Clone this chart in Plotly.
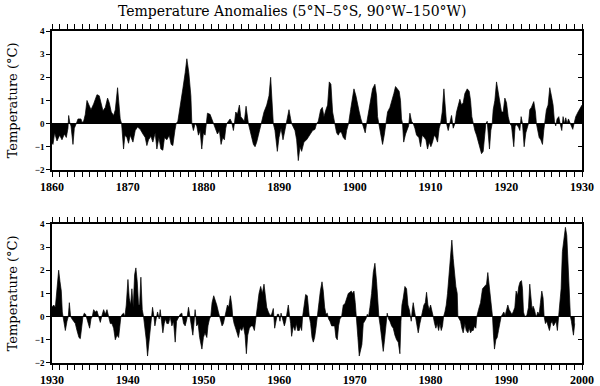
import plotly.graph_objects as go

# ---- data ----
years_top = [1860.00,1860.13,1860.35,1860.66,1861.01,1861.32,1861.63,1861.89,1862.11,1862.20,1862.37,1862.51,1862.77,1862.95,1863.21,1863.43,1863.83,1863.96,1864.18,1864.40,1864.62,1864.84,1865.15,1865.50,1865.94,1866.24,1866.46,1866.73,1867.04,1867.34,1867.56,1867.83,1868.14,1868.36,1868.66,1868.84,1869.01,1869.19,1869.45,1869.63,1869.89,1870.11,1870.33,1870.69,1870.99,1871.30,1871.65,1872.01,1872.31,1872.53,1872.75,1873.06,1873.32,1873.63,1873.85,1874.12,1874.38,1874.64,1874.86,1875.17,1875.48,1875.74,1875.96,1876.23,1876.40,1876.62,1876.93,1877.28,1877.59,1877.81,1878.07,1878.34,1878.47,
 1878.68,1878.90,1879.12,1879.34,1879.56,1879.78,1880.00,1880.22,1880.35,1880.53,1880.88,1881.14,1881.32,1881.54,1881.85,1882.11,1882.33,1882.55,1882.77,1882.95,1883.08,1883.30,1883.52,1883.74,1883.96,1884.09,1884.27,1884.49,1884.75,1884.93,1885.15,1885.41,1885.63,1885.80,1885.94,1886.16,1886.38,1886.60,1886.82,1887.04,1887.26,1887.48,1887.70,1888.00,1888.36,1888.66,1888.88,1889.10,1889.23,1889.45,1889.76,1889.98,1890.25,1890.51,1890.73,1890.91,1891.13,1891.30,1891.52,1891.65,1892.09,1892.31,1892.53,1892.75,1892.97,1893.28,1893.63,1894.07,1894.42,1894.73,1894.95,1895.17,1895.48,1895.70,1895.92,1896.18,1896.40,1896.62,1896.84,1897.06,1897.24,1897.41,1897.59,1897.81,1898.03,1898.25,1898.47,1898.73,1898.91,1899.17,1899.44,1899.70,1899.88,1900.14,1900.36,1900.58,1900.80,1900.98,1901.20,1901.37,1901.55,1901.77,1902.08,1902.34,1902.65,1902.87,1903.00,1903.17,1903.39,1903.66,1903.88,1904.10,1904.32,1904.63,1904.93,1905.15,1905.37,1905.59,1905.85,1906.03,1906.16,1906.30,
 1906.45,1906.70,1906.95,1907.10,1907.27,1907.49,1907.71,1907.93,1908.15,1908.46,1908.68,1908.90,1909.16,1909.38,1909.60,1909.82,1910.04,1910.26,1910.48,1910.70,1910.92,1911.14,1911.32,1911.54,1911.76,1911.93,1912.11,1912.33,1912.55,1912.77,1912.99,1913.21,1913.43,1913.65,1913.87,1914.09,1914.31,1914.53,1914.84,1915.10,1915.28,1915.45,1915.63,1915.85,1916.07,1916.29,1916.51,1916.73,1916.95,1917.17,1917.30,1917.48,1917.61,1917.78,1917.96,1918.14,1918.27,1918.49,1918.71,1918.93,1919.15,1919.37,1919.59,1919.81,1920.03,1920.25,1920.47,1920.69,1920.99,1921.17,1921.35,1921.61,1921.79,1921.96,1922.14,1922.36,1922.58,1922.75,1922.93,1923.10,1923.32,1923.63,1923.85,1923.98,1924.16,1924.34,1924.56,1924.78,1924.95,1925.08,1925.30,1925.52,1925.74,1925.96,1926.18,1926.36,1926.53,1926.71,1926.93,1927.11,1927.33,1927.50,1927.68,1927.85,1928.03,1928.21,1928.38,1928.60,1928.78,1928.95,1929.17,1929.48,1929.79,1930.00]
anom_top = [-0.85,-0.9,-0.4,-0.75,-0.5,-0.7,-0.45,-0.6,-0.2,0.35,0.0,-0.1,-0.9,-0.2,0.0,0.2,0.2,0.05,0.1,0.4,1.0,0.85,0.6,0.85,1.25,1.2,0.9,0.55,0.7,1.1,0.9,0.5,0.35,0.6,1.55,0.8,0.2,0.0,-1.1,-0.5,-0.6,-0.85,-0.5,-0.8,-0.3,-0.15,-0.25,-0.45,-0.6,-0.95,-0.7,-0.55,-0.8,-0.4,-1.1,-0.6,-1.1,-1.15,-0.6,-0.7,-0.5,-0.9,-0.95,-0.3,0.0,0.1,0.7,1.5,2.2,2.8,2.2,1.2,0.0,
 -0.3,0.0,-0.1,-0.5,-0.3,-1.1,-0.4,-0.5,0.0,0.45,0.4,0.15,0.0,-0.2,-0.45,-0.3,-0.9,-0.6,-0.7,-0.2,0.0,0.1,0.2,0.05,-0.3,0.0,0.5,0.4,0.8,0.3,0.2,0.1,0.75,0.3,0.0,-0.3,-0.6,-0.9,-1.0,-0.8,-0.5,-0.2,0.0,0.5,0.8,1.2,2.0,1.0,0.0,-0.3,-1.2,-0.6,-0.2,-0.7,-0.3,0.0,0.4,0.6,0.2,0.0,-0.3,-0.7,-1.6,-1.0,-1.2,-0.8,-0.7,-0.5,-0.3,-0.25,0.0,0.1,0.6,0.7,0.3,0.6,0.8,1.8,1.7,0.5,0.1,-0.1,-0.4,-0.5,-0.35,-0.4,-0.6,-0.7,-0.3,0.0,0.6,1.2,1.5,1.2,0.8,0.5,0.2,0.0,-0.3,-0.4,0.0,0.4,1.0,1.5,1.7,1.2,0.3,0.0,-0.5,-0.9,-0.5,0.0,0.5,0.7,1.0,1.3,1.6,1.5,1.4,1.0,0.2,0.0,
 -0.8,-0.45,-0.2,-0.1,0.45,0.1,0.0,-0.2,-0.5,-0.6,-1.0,-0.5,-0.6,-0.7,-1.1,-0.8,-1.0,-0.8,-0.5,-0.6,-0.8,-0.2,0.0,0.5,1.5,0.7,0.0,-0.3,0.0,0.35,-0.2,0.0,0.5,0.8,1.05,0.8,0.9,1.3,1.5,1.4,1.0,0.3,0.0,-0.3,-0.5,-0.8,-1.1,-1.3,-1.2,-0.3,0.0,0.1,-0.5,-1.1,-0.3,0.0,0.6,1.0,1.8,1.4,1.0,0.5,0.5,1.1,0.9,0.3,0.0,-0.1,-1.0,-0.1,-0.05,-0.15,-0.3,0.3,0.0,-1.0,-0.4,-0.2,0.0,0.6,0.7,0.95,0.5,0.0,-0.3,-0.6,-0.7,-0.9,-0.3,0.0,0.6,0.8,1.55,1.2,0.8,0.1,-0.1,0.2,0.3,0.0,-0.3,0.3,0.0,0.25,0.0,0.2,0.05,-0.1,-0.25,0.0,0.3,0.5,0.7,0.8]

years_bot = [1930.00,1930.22,1930.44,1930.66,1930.88,1931.06,1931.23,1931.36,1931.45,1931.63,1931.76,1931.98,1932.15,1932.29,1932.46,1932.64,1932.86,1933.08,1933.30,1933.56,1933.74,1933.91,1934.09,1934.27,1934.44,1934.62,1934.79,1934.97,1935.15,1935.32,1935.50,1935.72,1935.94,1936.16,1936.38,1936.60,1936.82,1937.04,1937.26,1937.48,1937.70,1937.92,1938.14,1938.36,1938.58,1938.80,1938.93,1939.10,1939.28,1939.45,1939.63,1939.81,1940.03,1940.20,1940.38,1940.55,1940.73,1940.91,1941.08,1941.26,1941.43,1941.57,1941.74,1941.92,1942.09,1942.27,1942.45,1942.62,1942.80,1942.97,1943.15,1943.28,1943.46,1943.59,1943.76,1943.94,1944.16,1944.29,1944.47,1944.64,1944.82,1945.00,1945.17,1945.39,1945.61,1945.83,1946.05,1946.27,1946.45,1946.71,1946.93,1947.15,1947.37,1947.59,1947.81,1948.03,1948.21,1948.38,1948.60,1948.75,1948.90,1949.00,1949.10,1949.30,1949.50,1949.80,1950.00,1950.20,1950.45,1950.60,1950.80,
 1950.97,1951.14,1951.36,1951.58,1951.76,1951.98,1952.11,1952.29,1952.46,1952.64,1952.81,1952.99,1953.17,1953.34,1953.56,1953.74,1953.87,1954.05,1954.27,1954.44,1954.62,1954.84,1955.06,1955.28,1955.50,1955.67,1955.85,1956.07,1956.29,1956.51,1956.73,1956.95,1957.12,1957.34,1957.56,1957.78,1958.00,1958.18,1958.36,1958.58,1958.80,1959.01,1959.23,1959.41,1959.59,1959.76,1959.94,1960.11,1960.25,1960.47,1960.69,1960.86,1961.04,1961.21,1961.39,1961.52,1961.65,1961.87,1962.09,1962.27,1962.44,1962.66,1962.80,1962.97,1963.10,1963.28,1963.50,1963.72,1963.85,1963.98,1964.16,1964.34,1964.51,1964.69,1964.86,1965.04,1965.22,1965.44,1965.66,1965.83,1966.01,1966.18,1966.36,1966.53,1966.71,1966.93,1967.15,1967.33,1967.50,1967.68,1967.85,1968.03,1968.25,1968.47,1968.69,1968.91,1969.13,1969.35,1969.52,1969.70,1969.88,1970.05,1970.23,1970.40,1970.58,1970.76,1970.93,1971.11,1971.28,1971.46,1971.64,1971.81,1971.99,1972.21,1972.43,1972.65,1972.87,1973.04,1973.17,1973.35,1973.53,1973.75,1973.92,1974.10,1974.27,1974.45,1974.63,1974.85,1975.07,1975.29,1975.51,1975.73,1975.95,
 1976.09,1976.22,1976.39,1976.61,1976.83,1977.01,1977.19,1977.32,1977.45,1977.58,1977.71,1977.85,1977.98,1978.15,1978.37,1978.59,1978.77,1978.94,1979.12,1979.30,1979.47,1979.65,1979.82,1980.00,1980.18,1980.35,1980.53,1980.70,1980.88,1981.06,1981.23,1981.41,1981.58,1981.72,1981.89,1982.07,1982.24,1982.42,1982.59,1982.81,1982.99,1983.17,1983.34,1983.52,1983.61,1983.78,1983.96,1984.13,1984.31,1984.53,1984.71,1984.93,1985.10,1985.28,1985.45,1985.63,1985.80,1985.98,1986.11,1986.33,1986.60,1986.86,1987.12,1987.39,1987.56,1987.74,1987.92,1988.05,1988.18,1988.31,1988.44,1988.62,1988.80,1988.97,1989.15,1989.32,1989.50,1989.67,1989.85,1990.03,1990.20,1990.38,1990.55,1990.73,1990.91,1991.13,1991.30,1991.48,1991.65,1991.83,1992.01,1992.14,1992.27,1992.44,1992.71,1992.93,1993.10,1993.24,1993.41,1993.54,1993.72,1993.85,1993.98,1994.16,1994.34,1994.51,1994.69,1994.86,1995.00,1995.17,1995.35,1995.52,1995.70,1995.88,1996.05,1996.23,1996.40,1996.58,1996.75,1996.89,1997.06,1997.24,1997.41,1997.63,1997.81,1997.99,1998.12,1998.25,1998.38,1998.47,1998.60,1998.73,1998.87,1999.04]
anom_bot = [0.4,0.5,0.4,1.2,2.0,1.5,1.1,0.2,0.0,-0.4,-0.6,-0.2,0.0,0.6,0.0,-0.1,-0.2,-0.3,-0.6,-0.9,-0.95,-0.4,0.0,0.15,0.1,-0.1,-0.3,-0.5,-0.1,0.0,0.3,0.2,0.25,0.0,-0.25,0.05,0.3,0.1,0.3,0.0,-0.3,-0.3,-0.5,-1.0,-0.8,-0.9,-0.5,0.0,0.1,0.15,0.0,0.5,1.6,0.8,0.5,1.2,0.4,1.8,2.1,1.5,0.5,0.5,1.7,0.3,0.0,-0.4,-1.0,-1.7,-1.2,-0.5,0.0,0.4,0.0,-0.4,-0.1,0.2,-0.1,0.3,-0.2,-0.7,-0.3,-0.1,-0.3,-0.3,0.0,-0.4,-0.2,-1.1,-0.2,0.0,0.1,0.15,-0.3,-0.4,-0.1,0.4,0.0,-0.2,-0.8,-0.3,0.3,0.0,-0.4,-0.3,-0.9,-1.4,-0.9,-0.7,-0.9,-0.4,-0.1,
 0.0,0.6,0.9,0.7,0.5,0.2,0.0,-0.2,-0.4,-0.3,0.0,0.3,0.5,0.4,0.9,0.5,0.0,-0.3,-0.6,-0.7,-0.9,-0.5,-0.6,-0.4,-0.8,-1.6,-0.8,-0.5,-0.4,-0.4,-0.6,0.0,0.4,1.0,1.3,1.0,1.4,0.8,0.4,0.2,0.05,0.1,0.35,-0.5,-0.1,0.1,0.1,-0.2,0.15,-0.1,-0.4,-0.2,0.3,0.5,0.0,-0.3,-0.85,-0.4,-0.6,-0.3,-0.6,-0.6,-0.4,-0.6,0.0,0.5,0.95,0.9,0.3,0.0,-0.3,-0.9,-1.1,-0.9,-0.5,0.0,0.7,1.1,1.5,1.1,0.4,0.1,0.15,-0.1,-0.2,-0.4,-0.4,-0.4,-0.9,-1.0,-0.4,-0.1,0.0,0.5,0.55,0.8,1.0,1.05,1.1,1.0,1.1,0.6,0.0,-0.9,-1.7,-1.4,-1.2,-0.3,-0.2,-0.1,0.1,0.0,0.4,1.0,1.9,2.3,1.5,0.5,0.0,-0.4,-0.9,-1.5,-1.0,-0.3,0.15,-0.1,-0.2,-0.4,-0.5,-0.8,-1.0,-1.1,-1.6,
 -0.2,0.5,0.8,1.3,1.2,0.5,0.3,0.0,-0.2,0.3,0.6,0.3,0.0,-0.4,-0.7,-0.3,0.0,0.2,0.5,0.6,1.05,0.5,0.3,0.5,0.3,0.0,-0.3,-0.5,-0.3,-0.6,-0.3,-0.6,-0.4,0.0,0.2,0.5,1.0,1.8,2.4,3.3,2.5,1.8,1.3,1.0,0.0,-0.1,-0.2,-0.5,-0.7,-0.3,-0.6,-0.7,-0.5,-0.7,-0.6,-0.6,-0.4,-0.5,0.0,0.3,0.6,1.2,1.3,1.4,1.9,1.4,0.7,0.3,0.0,-0.8,-1.4,-1.0,-0.9,-0.6,-0.3,0.0,0.1,0.2,0.05,0.3,0.5,0.3,0.2,0.1,0.2,0.4,1.1,0.9,1.3,1.5,1.55,1.2,0.2,0.0,0.05,0.4,1.4,0.7,0.3,0.45,0.3,0.1,0.0,0.2,0.1,0.6,1.1,0.8,0.0,-0.3,-0.2,-0.4,-0.6,-0.3,-0.2,-0.4,-0.3,-0.2,-0.6,0.0,0.4,1.2,2.8,3.5,3.85,3.5,2.5,1.2,0.4,0.0,-0.2,-0.5,-0.8,-0.3]

decades_top = [1860, 1870, 1880, 1890, 1900, 1910, 1920, 1930]
decades_bot = [1930, 1940, 1950, 1960, 1970, 1980, 1990, 2000]
y_ticks = [-2, -1, 0, 1, 2, 3, 4]

title_text = "Temperature Anomalies (5°N–5°S, 90°W–150°W)"
y_title = "Temperature (°C)"

fig = go.Figure()
fig.add_trace(go.Scatter(x=years_top, y=anom_top, mode="lines", fill="tozeroy",
                         line=dict(color="black", width=0.7), fillcolor="black",
                         xaxis="x", yaxis="y", showlegend=False, hoverinfo="skip"))
fig.add_trace(go.Scatter(x=years_bot, y=anom_bot, mode="lines", fill="tozeroy",
                         line=dict(color="black", width=0.7), fillcolor="black",
                         xaxis="x2", yaxis="y2", showlegend=False, hoverinfo="skip"))
# invisible traces for the right-hand (inward tick) axes
fig.add_trace(go.Scatter(x=[1860], y=[0], mode="markers", marker=dict(opacity=0),
                         xaxis="x", yaxis="y3", showlegend=False, hoverinfo="skip"))
fig.add_trace(go.Scatter(x=[1930], y=[0], mode="markers", marker=dict(opacity=0),
                         xaxis="x2", yaxis="y4", showlegend=False, hoverinfo="skip"))

xtick_font = dict(family="Liberation Serif", size=12, color="black", weight="bold")
ytick_font = dict(family="Liberation Serif", size=9, color="black", weight="bold")
ytitle_font = dict(family="DejaVu Serif", size=13, color="black")

def xaxis_cfg(start, end, decades, anchor):
    yrs = list(range(start, end + 1))
    return dict(range=[start, end], tickvals=yrs,
                ticktext=[str(v) if v in decades else "" for v in yrs],
                ticks="outside", ticklen=5, tickwidth=1, tickcolor="black",
                showline=True, linecolor="black", linewidth=1.5, mirror="ticks",
                showgrid=False, zeroline=False, tickfont=xtick_font, anchor=anchor,
                domain=[0, 1], automargin=False)

def yaxis_cfg(dom, anchor):
    return dict(range=[-2, 4], tickvals=y_ticks, ticks="outside", ticklen=4, tickwidth=1,
                tickcolor="black", showline=True, linecolor="black", linewidth=1.5,
                mirror=True, showgrid=False, zeroline=True, zerolinecolor="black",
                zerolinewidth=1, tickfont=ytick_font, domain=dom, anchor=anchor,
                automargin=False,
                title=dict(text=y_title, font=ytitle_font, standoff=14))

def yright_cfg(over, anchor):
    return dict(range=[-2, 4], tickvals=y_ticks, ticks="inside", ticklen=4, tickwidth=1,
                tickcolor="black", showticklabels=False, showline=False, showgrid=False,
                zeroline=False, overlaying=over, side="right", anchor=anchor,
                automargin=False)

fig.update_layout(
    width=600, height=386,
    margin=dict(l=52, r=18, t=31, b=23),
    paper_bgcolor="white", plot_bgcolor="white",
    title=dict(text=title_text, x=0.487, xanchor="center", y=0.972, yanchor="middle",
               font=dict(family="DejaVu Serif", size=14, color="black")),
    xaxis=xaxis_cfg(1860, 1930, decades_top, "y"),
    xaxis2=xaxis_cfg(1930, 2000, decades_bot, "y2"),
    yaxis=yaxis_cfg([0.5817, 1.0], "x"),
    yaxis2=yaxis_cfg([0.0, 0.4192], "x2"),
    yaxis3=yright_cfg("y", "x"),
    yaxis4=yright_cfg("y2", "x2"),
)

fig.write_html("out.html", config={"displayModeBar": False},
               post_script="document.body.style.margin='0';document.body.style.overflow='hidden';")
